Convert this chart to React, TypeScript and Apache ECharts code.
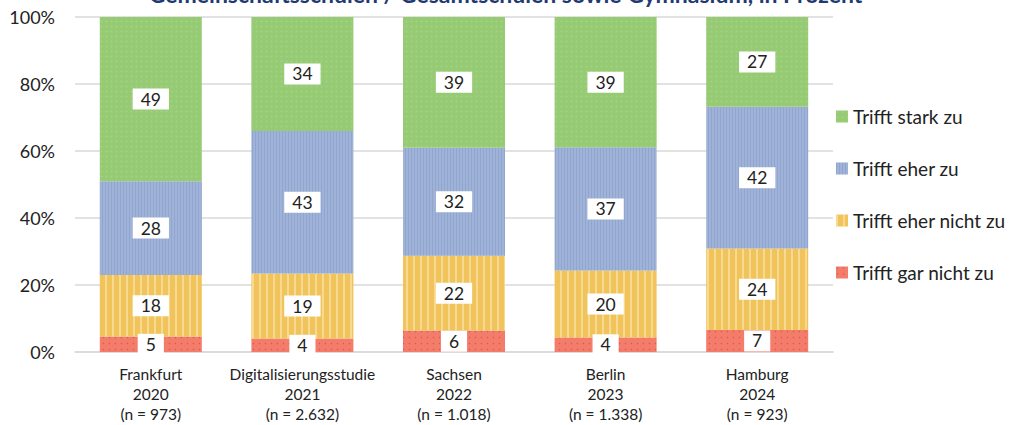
import React, { useEffect, useRef } from "react";
import * as echarts from "echarts";

const categories = [
  "Frankfurt\n2020\n(n = 973)",
  "Digitalisierungsstudie\n2021\n(n = 2.632)",
  "Sachsen\n2022\n(n = 1.018)",
  "Berlin\n2023\n(n = 1.338)",
  "Hamburg\n2024\n(n = 923)",
];
const garNicht = [4.6, 4.0, 6.4, 4.3, 6.6];
const eherNicht = [18.4, 19.4, 22.3, 20.0, 24.3];
const eherZu = [28.0, 42.6, 32.3, 36.8, 42.3];
const starkZu = [49.0, 34.0, 39.0, 38.9, 26.8];
const yTicks = [0, 20, 40, 60, 80, 100];
const title = "Gemeinschaftsschulen / Gesamtschulen sowie Gymnasium, in Prozent";

const FONT = "Lato, 'Open Sans', sans-serif";

export default function App() {
  const ref = useRef<HTMLDivElement>(null);
  useEffect(() => {
    const chart = echarts.init(ref.current!, null, { renderer: "svg" });
    const label = {
      show: true,
      position: "inside",
      formatter: (p: any) => String(Math.round(p.value)),
      backgroundColor: "#ffffff",
      color: "#222222",
      fontSize: 17.5,
      fontFamily: FONT,
      padding: [1, 8, 0, 8],
      lineHeight: 20,
    };
    const mk = (name: string, data: number[], color: string, decal: any) => ({
      name,
      type: "bar",
      stack: "total",
      data,
      barWidth: 102,
      itemStyle: { color, decal },
      label,
      emphasis: { disabled: true },
    });
    chart.setOption({
      animation: false,
      aria: { enabled: true, decal: { show: true } },
      grid: { left: 75, right: 178, top: 17, bottom: 73 },
      graphic: [
        {
          type: "text",
          left: "center",
          top: -18,
          style: {
            text: title,
            fill: "#1F3A73",
            font: "bold 23px " + FONT,
          },
        },
      ],
      legend: {
        orient: "vertical",
        left: 831,
        top: 102,
        itemWidth: 12,
        itemHeight: 12,
        itemGap: 33,
        icon: "rect",
        data: ["Trifft stark zu", "Trifft eher zu", "Trifft eher nicht zu", "Trifft gar nicht zu"],
        textStyle: { fontSize: 19, lineHeight: 19, color: "#222222", fontFamily: FONT, padding: [0, 0, 0, 0] },
      },
      xAxis: {
        type: "category",
        data: categories,
        axisLine: { show: true, lineStyle: { color: "#d9d9d9", width: 1.5 } },
        axisTick: { show: false },
        axisLabel: {
          fontSize: 15.5,
          lineHeight: 20,
          color: "#222222",
          fontFamily: FONT,
          margin: 12,
          interval: 0,
        },
      },
      yAxis: {
        type: "value",
        min: 0,
        max: 100,
        interval: 20,
        axisLabel: {
          formatter: (v: number) => (yTicks.includes(v) ? v + "%" : ""),
          fontSize: 18,
          color: "#222222",
          fontFamily: FONT,
          margin: 20,
        },
        splitLine: { lineStyle: { color: "#d9d9d9", width: 1.5 } },
        axisLine: { show: false },
        axisTick: { show: false },
      },
      series: [
        mk("Trifft gar nicht zu", garNicht, "#F47C6A", {
          symbol: "circle",
          symbolSize: 0.5,
          color: "rgba(200,60,50,0.55)",
          dashArrayX: [3, 3],
          dashArrayY: [3, 3],
          rotation: 0,
        }),
        mk("Trifft eher nicht zu", eherNicht, "#F0C45A", {
          symbol: "rect",
          symbolSize: 1,
          color: "rgba(255,235,190,0.55)",
          dashArrayX: [2, 5],
          dashArrayY: [10, 0],
          rotation: 0,
        }),
        mk("Trifft eher zu", eherZu, "#9FB2D8", {
          symbol: "rect",
          symbolSize: 1,
          color: "rgba(120,140,185,0.35)",
          dashArrayX: [1, 2],
          dashArrayY: [10, 0],
          rotation: 0,
        }),
        mk("Trifft stark zu", starkZu, "#96CB74", {
          symbol: "diamond",
          symbolSize: 0.8,
          color: "rgba(170,215,145,0.6)",
          dashArrayX: [3, 2],
          dashArrayY: [3, 2],
          rotation: 0,
        }),
      ],
    });
    return () => chart.dispose();
  }, []);
  return (
    <div
      ref={ref}
      style={{ position: "absolute", left: 0, top: 0, width: 1011, height: 425, background: "#fff" }}
    />
  );
}
